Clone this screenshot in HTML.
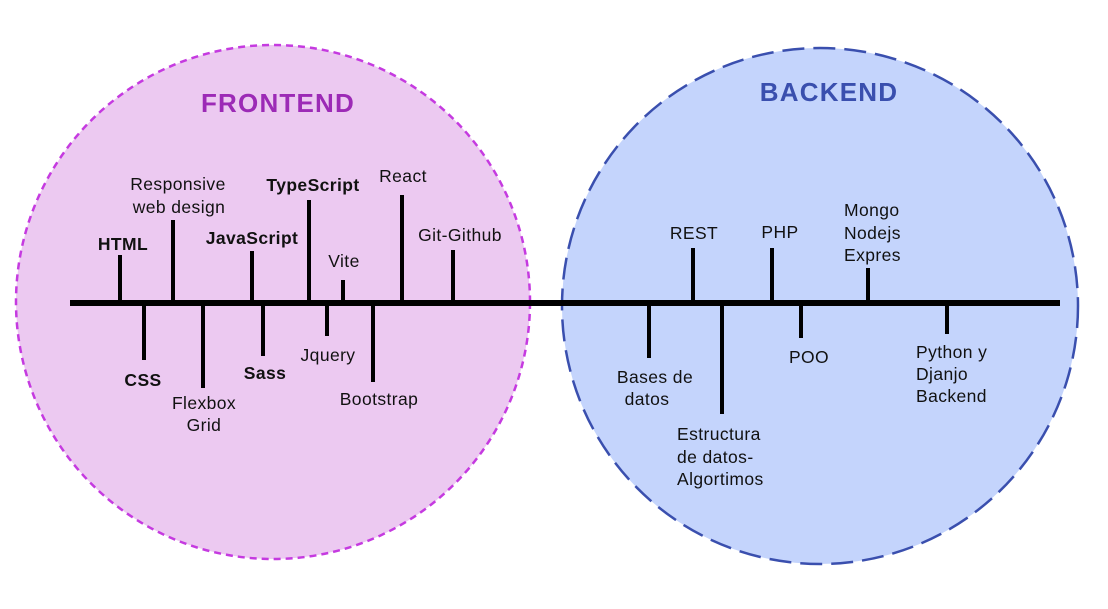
<!DOCTYPE html>
<html><head><meta charset="utf-8"><style>
html,body{margin:0;padding:0;background:#fff;width:1108px;height:609px;overflow:hidden}
text{font-family:"Liberation Sans",sans-serif;font-size:17.5px;fill:#111;letter-spacing:0.4px}
.b{font-weight:bold}
</style></head><body>
<svg width="1108" height="609" viewBox="0 0 1108 609">
<circle cx="273" cy="302" r="257" fill="#ecc9f1" stroke="#c53ae0" stroke-width="2.5" stroke-dasharray="7,5"/>
<circle cx="820" cy="306" r="258" fill="#c4d4fc" stroke="#3a4fae" stroke-width="2.5" stroke-dasharray="22,9"/>
<text x="278" y="112" text-anchor="middle" style="font-size:26px;font-weight:bold;fill:#9c2ab6;letter-spacing:1.2px">FRONTEND</text>
<text x="829" y="101" text-anchor="middle" style="font-size:26px;font-weight:bold;fill:#3a4fae;letter-spacing:1.2px">BACKEND</text>
<rect x="70" y="300" width="990" height="6" fill="#000"/>
<g stroke="#000" stroke-width="4">
<line x1="120" y1="303" x2="120" y2="255"/>
<line x1="173" y1="303" x2="173" y2="220"/>
<line x1="252" y1="303" x2="252" y2="251"/>
<line x1="309" y1="303" x2="309" y2="200"/>
<line x1="343" y1="303" x2="343" y2="280"/>
<line x1="402" y1="303" x2="402" y2="195"/>
<line x1="453" y1="303" x2="453" y2="250"/>
<line x1="693" y1="303" x2="693" y2="248"/>
<line x1="772" y1="303" x2="772" y2="248"/>
<line x1="868" y1="303" x2="868" y2="268"/>
<line x1="144" y1="303" x2="144" y2="360"/>
<line x1="203" y1="303" x2="203" y2="388"/>
<line x1="263" y1="303" x2="263" y2="356"/>
<line x1="327" y1="303" x2="327" y2="336"/>
<line x1="373" y1="303" x2="373" y2="382"/>
<line x1="649" y1="303" x2="649" y2="358"/>
<line x1="722" y1="303" x2="722" y2="414"/>
<line x1="801" y1="303" x2="801" y2="338"/>
<line x1="947" y1="303" x2="947" y2="334"/>
</g>
<g text-anchor="middle">
<text x="123" y="250" class="b">HTML</text>
<text x="178" y="190">Responsive</text>
<text x="179" y="213">web design</text>
<text x="252" y="244" class="b">JavaScript</text>
<text x="313" y="191" class="b">TypeScript</text>
<text x="344" y="267">Vite</text>
<text x="403" y="182">React</text>
<text x="460" y="241">Git-Github</text>
<text x="694" y="239">REST</text>
<text x="780" y="238">PHP</text>
<text x="143" y="386" class="b">CSS</text>
<text x="204" y="409">Flexbox</text>
<text x="204" y="431">Grid</text>
<text x="265" y="379" class="b">Sass</text>
<text x="328" y="361">Jquery</text>
<text x="379" y="405">Bootstrap</text>
<text x="655" y="383">Bases de</text>
<text x="647" y="405">datos</text>
<text x="809" y="363">POO</text>
</g>
<text x="844" y="216">Mongo</text>
<text x="844" y="239">Nodejs</text>
<text x="844" y="261">Expres</text>
<text x="677" y="440">Estructura</text>
<text x="677" y="463">de datos-</text>
<text x="677" y="485">Algortimos</text>
<text x="916" y="358">Python y</text>
<text x="916" y="380">Djanjo</text>
<text x="916" y="402">Backend</text>
</svg>
</body></html>
